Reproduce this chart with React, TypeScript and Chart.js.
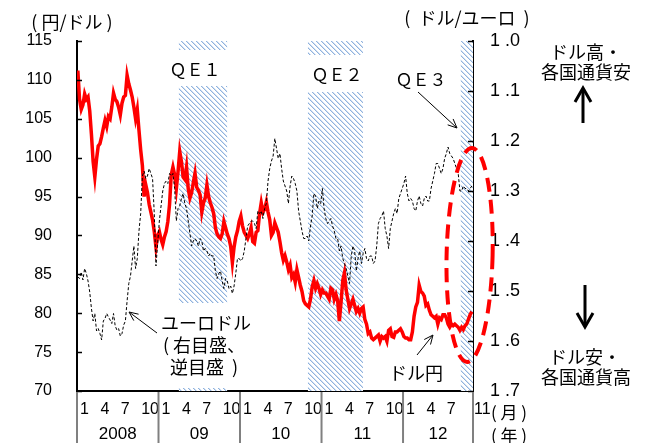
import React, { useEffect, useRef } from 'react';
import { Chart, registerables } from 'chart.js';

Chart.register(...registerables);

// ---------- data (weekly readings, 4 per month) ----------
const yearLabels = ['2008', '09', '10', '11', '12'];
const monthTicks = [0, 3, 6, 9, 12, 15, 18, 21, 24, 27, 30, 33, 36, 39, 42, 45, 48, 51, 54, 58];
const leftTicks = [70, 75, 80, 85, 90, 95, 100, 105, 110, 115];
const rightTicks = [1.0, 1.1, 1.2, 1.3, 1.4, 1.5, 1.6, 1.7];

// USD/JPY (left axis)
const usdJpy2008 = [
  111.2, 107.5, 106.2, 106.8, 108.2, 107.5, 107.8, 106.0, 103.0, 99.5, 97.5, 99.8,
  101.5, 101.8, 102.7, 103.8, 104.8, 104.0, 105.3, 105.0, 106.5, 108.3, 107.5, 107.2,
  106.5, 105.5, 107.0, 107.8, 108.0, 110.6, 109.5, 108.7, 107.8, 106.5, 105.0, 106.2,
  103.5, 101.0, 99.0, 95.0, 96.5, 95.5, 94.0, 93.0, 92.0, 90.5, 88.5, 90.0,
];
const usdJpy2009 = [
  90.5, 89.5, 88.8, 89.8, 90.5, 91.8, 94.0, 97.8, 98.8, 97.8, 96.0, 98.2,
  100.8, 99.5, 97.5, 97.2, 98.8, 96.0, 94.8, 95.5, 96.8, 98.0, 96.2, 95.8,
  95.2, 93.0, 94.2, 94.8, 96.5, 95.0, 94.2, 93.6, 92.8, 91.0, 90.2, 89.8,
  89.6, 90.2, 91.8, 91.0, 90.2, 89.6, 88.6, 86.5, 88.5, 89.8, 90.6, 91.8,
];
const usdJpy2010 = [
  92.5, 91.2, 90.4, 90.0, 89.6, 90.2, 91.0, 89.2, 89.0, 90.4, 90.6, 92.8,
  94.2, 93.0, 93.4, 94.3, 93.0, 92.0, 90.0, 90.4, 91.6, 91.0, 90.4, 89.2,
  87.8, 86.8, 87.4, 86.6, 85.6, 86.2, 84.6, 85.0, 84.0, 85.6, 84.6, 83.6,
  82.8, 81.6, 81.2, 81.0, 80.8, 81.8, 83.4, 84.2, 83.2, 83.8, 83.2, 82.4,
];
const usdJpy2011 = [
  83.0, 82.6, 82.6, 82.2, 81.8, 83.2, 83.0, 81.8, 82.4, 81.6, 79.0, 81.4,
  84.2, 85.2, 83.0, 81.8, 80.6, 81.2, 81.8, 81.0, 80.2, 80.6, 80.0, 80.6,
  80.8, 79.2, 78.6, 77.4, 77.6, 76.8, 76.6, 76.8, 77.0, 77.2, 76.4, 77.0,
  76.8, 77.0, 76.4, 77.8, 78.0, 77.0, 76.9, 77.6, 77.6, 77.8, 78.0, 77.6,
];
const usdJpy2012 = [
  77.0, 76.8, 76.8, 76.6, 76.6, 77.6, 79.6, 80.8, 81.4, 83.6, 82.8, 82.6,
  82.2, 81.0, 81.2, 80.4, 79.8, 79.6, 79.4, 79.6, 78.6, 79.4, 79.2, 79.8,
  79.8, 79.4, 78.6, 78.2, 78.6, 78.4, 78.6, 78.4, 78.2, 77.8, 78.2, 77.9,
  78.4, 78.6, 79.2, 79.8, 80.2,
];

// EUR/USD (right axis, reversed)
const eurUsd2008 = [
  1.472, 1.475, 1.462, 1.478, 1.455, 1.465, 1.480, 1.502, 1.535, 1.560, 1.545, 1.580,
  1.575, 1.585, 1.598, 1.560, 1.555, 1.545, 1.552, 1.558, 1.565, 1.545, 1.570, 1.578,
  1.575, 1.590, 1.585, 1.568, 1.560, 1.520, 1.485, 1.470, 1.440, 1.410, 1.455, 1.435,
  1.380, 1.345, 1.270, 1.260, 1.275, 1.270, 1.255, 1.265, 1.275, 1.345, 1.450, 1.405,
];
const eurUsd2009 = [
  1.360, 1.330, 1.300, 1.285, 1.280, 1.285, 1.265, 1.270, 1.265, 1.295, 1.360, 1.335,
  1.330, 1.315, 1.305, 1.325, 1.335, 1.360, 1.385, 1.410, 1.400, 1.395, 1.400, 1.410,
  1.395, 1.400, 1.420, 1.415, 1.420, 1.430, 1.425, 1.430, 1.430, 1.460, 1.475, 1.465,
  1.460, 1.480, 1.495, 1.475, 1.480, 1.495, 1.490, 1.505, 1.490, 1.465, 1.435, 1.435,
];
const eurUsd2010 = [
  1.440, 1.435, 1.420, 1.395, 1.370, 1.365, 1.360, 1.360, 1.365, 1.375, 1.340, 1.345,
  1.340, 1.355, 1.335, 1.325, 1.280, 1.255, 1.240, 1.230, 1.195, 1.215, 1.235, 1.225,
  1.255, 1.280, 1.290, 1.300, 1.325, 1.290, 1.270, 1.275, 1.285, 1.300, 1.340, 1.360,
  1.380, 1.395, 1.395, 1.390, 1.400, 1.370, 1.350, 1.305, 1.310, 1.335, 1.320, 1.325,
];
const eurUsd2011 = [
  1.295, 1.335, 1.355, 1.365, 1.360, 1.355, 1.370, 1.380, 1.395, 1.395, 1.420, 1.410,
  1.435, 1.445, 1.455, 1.470, 1.485, 1.430, 1.410, 1.420, 1.460, 1.435, 1.420, 1.445,
  1.425, 1.415, 1.435, 1.440, 1.430, 1.430, 1.445, 1.440, 1.410, 1.365, 1.355, 1.350,
  1.340, 1.375, 1.390, 1.415, 1.375, 1.360, 1.345, 1.335, 1.345, 1.315, 1.305, 1.295,
];
const eurUsd2012 = [
  1.285, 1.270, 1.305, 1.320, 1.315, 1.320, 1.335, 1.340, 1.320, 1.310, 1.325, 1.330,
  1.315, 1.310, 1.320, 1.320, 1.295, 1.280, 1.265, 1.245, 1.245, 1.255, 1.265, 1.255,
  1.235, 1.225, 1.212, 1.225, 1.230, 1.235, 1.245, 1.255, 1.265, 1.300, 1.300, 1.290,
  1.295, 1.295, 1.300, 1.295, 1.290,
];

// QE periods (months since Jan 2008)
const qeLabels = ['ＱＥ１', 'ＱＥ２', 'ＱＥ３'];
const qeStart = [15.0, 34.0, 56.5];
const qeEnd = [22.1, 42.1, 58.3];
const xMax = 58.3;

// ---------- helpers ----------
const CJK = "'Noto Sans CJK JP', 'Noto Sans', sans-serif";
const LAT = "'Liberation Sans', Arial, sans-serif";

const toPoints = (arrs: number[][]) =>
  arrs.flatMap((arr, yi) => arr.map((v, i) => ({ x: yi * 12 + (i + 0.5) / 4, y: v })));

function makeHatch(): CanvasPattern | string {
  const c = document.createElement('canvas');
  const n = 5;
  c.width = n;
  c.height = n;
  const g = c.getContext('2d');
  if (!g) return '#b8cfec';
  g.fillStyle = '#ffffff';
  g.fillRect(0, 0, n, n);
  for (let y = 0; y < n; y++) {
    for (let x = 0; x < n; x++) {
      const d = (((x - y) % n) + n) % n;
      if (d === 0) {
        g.fillStyle = '#8fb2de';
        g.fillRect(x, y, 1, 1);
      } else if (d === 1) {
        g.fillStyle = '#d2e0f2';
        g.fillRect(x, y, 1, 1);
      }
    }
  }
  const p = g.createPattern(c, 'repeat');
  return p || '#b8cfec';
}

function txt(ctx: CanvasRenderingContext2D, s: string, x: number, y: number, size: number, family = CJK, align: CanvasTextAlign = 'center') {
  ctx.font = `${size}px ${family}`;
  ctx.textAlign = align;
  ctx.textBaseline = 'middle';
  ctx.fillStyle = '#000';
  ctx.fillText(s, x, y);
}

function arrow(ctx: CanvasRenderingContext2D, x1: number, y1: number, x2: number, y2: number, lw: number, headLen: number, headHalf: number) {
  const ang = Math.atan2(y2 - y1, x2 - x1);
  ctx.strokeStyle = '#000';
  ctx.lineWidth = lw;
  ctx.lineCap = 'butt';
  ctx.lineJoin = 'miter';
  ctx.beginPath();
  ctx.moveTo(x1, y1);
  ctx.lineTo(x2 - Math.cos(ang) * lw, y2 - Math.sin(ang) * lw);
  ctx.stroke();
  const bx = x2 - headLen * Math.cos(ang);
  const by = y2 - headLen * Math.sin(ang);
  const px = -Math.sin(ang) * headHalf;
  const py = Math.cos(ang) * headHalf;
  ctx.beginPath();
  ctx.moveTo(bx + px, by + py);
  ctx.lineTo(x2, y2);
  ctx.lineTo(bx - px, by - py);
  ctx.stroke();
}

export default function App() {
  const ref = useRef<HTMLCanvasElement | null>(null);

  useEffect(() => {
    document.body.style.margin = '0';
    const canvas = ref.current;
    if (!canvas) return;
    Chart.defaults.font.family = LAT;
    Chart.defaults.color = '#000';
    const hatch = makeHatch();

    const annot = {
      id: 'annot',
      beforeDatasetsDraw(chart: any) {
        const { ctx, chartArea: ca, scales } = chart;
        const x = scales.x;
        // hatch segments (vertical pixel ranges leave room for labels)
        const segs: number[][][] = [
          [[ca.top, 50], [86, 303], [388, ca.bottom]],
          [[ca.top, 55], [92, ca.bottom]],
          [[ca.top, ca.bottom]],
        ];
        ctx.save();
        ctx.fillStyle = hatch;
        qeStart.forEach((s, i) => {
          const x0 = x.getPixelForValue(s);
          const x1 = x.getPixelForValue(qeEnd[i]);
          segs[i].forEach(([a, b]) => ctx.fillRect(x0, a, x1 - x0, b - a));
        });
        ctx.restore();
      },
      afterDraw(chart: any) {
        const { ctx, chartArea: ca, scales } = chart;
        const x = scales.x;
        const yL = scales.yL;
        const yR = scales.yR;
        ctx.save();
        // inner tick marks
        ctx.strokeStyle = '#000';
        ctx.lineWidth = 1.5;
        leftTicks.forEach((v) => {
          const py = Math.round(yL.getPixelForValue(v)) + 0.5;
          ctx.beginPath();
          ctx.moveTo(ca.left, py);
          ctx.lineTo(ca.left + 5, py);
          ctx.stroke();
        });
        rightTicks.forEach((v) => {
          const py = Math.round(yR.getPixelForValue(v)) + 0.5;
          ctx.beginPath();
          ctx.moveTo(ca.right - 5, py);
          ctx.lineTo(ca.right, py);
          ctx.stroke();
        });
        // year separators & labels
        const bounds = [0, 12, 24, 36, 48, xMax];
        ctx.strokeStyle = '#808080';
        ctx.lineWidth = 2;
        bounds.forEach((b) => {
          const px = x.getPixelForValue(b);
          ctx.beginPath();
          ctx.moveTo(px, ca.bottom + 1);
          ctx.lineTo(px, chart.height);
          ctx.stroke();
        });
        yearLabels.forEach((lab, i) => {
          const a = x.getPixelForValue(bounds[i]);
          const b = x.getPixelForValue(bounds[i + 1]);
          txt(ctx, lab, (a + b) / 2, 434, 17, LAT);
        });
        // red dashed ellipse
        ctx.strokeStyle = '#ff0000';
        ctx.lineWidth = 4;
        ctx.setLineDash([14, 8]);
        ctx.beginPath();
        ctx.ellipse(x.getPixelForValue(57.8), yR.getPixelForValue(1.428), 23, 107, 0.023, 0, Math.PI * 2);
        ctx.stroke();
        ctx.setLineDash([]);
        // titles
        txt(ctx, '( 円/ドル )', 72, 22, 18);
        txt(ctx, '(  ドル/ユーロ  )', 467, 18, 18);
        txt(ctx, '( 月 )', 509, 413, 17);
        txt(ctx, '( 年 )', 509, 436, 17);
        // right side notes
        txt(ctx, 'ドル高・', 586, 52, 18);
        txt(ctx, '各国通貨安', 586, 72, 18);
        txt(ctx, 'ドル安・', 585, 357, 18);
        txt(ctx, '各国通貨高', 586, 377, 18);
        arrow(ctx, 583, 123, 583, 88, 3, 14, 8);
        arrow(ctx, 585, 285, 585, 327, 3, 14, 8);
        // QE labels
        txt(ctx, qeLabels[0], 195, 70, 17);
        txt(ctx, qeLabels[1], 337, 75, 17);
        txt(ctx, qeLabels[2], 421, 80, 17);
        arrow(ctx, 418, 92, 457, 128, 1, 9, 4);
        // series labels
        txt(ctx, 'ユーロドル', 206, 323, 18);
        txt(ctx, '( 右目盛、', 204, 345, 18);
        txt(ctx, '逆目盛  )', 204, 367, 18);
        arrow(ctx, 157, 333, 129, 312, 1, 9, 4);
        txt(ctx, 'ドル円', 416, 373, 18);
        arrow(ctx, 417, 355, 433, 335, 1, 9, 4);
        ctx.restore();
      },
    };

    const chart = new Chart(canvas, {
      type: 'line',
      data: {
        datasets: [
          {
            label: 'ユーロドル',
            data: toPoints([eurUsd2008, eurUsd2009, eurUsd2010, eurUsd2011, eurUsd2012]),
            yAxisID: 'yR',
            borderColor: '#000000',
            borderWidth: 1,
            borderDash: [3, 2],
            pointRadius: 0,
            tension: 0,
            fill: false,
          },
          {
            label: 'ドル円',
            data: toPoints([usdJpy2008, usdJpy2009, usdJpy2010, usdJpy2011, usdJpy2012]),
            yAxisID: 'yL',
            borderColor: '#ff0000',
            borderWidth: 3.5,
            pointRadius: 0,
            tension: 0,
            fill: false,
          },
        ],
      },
      options: {
        animation: false,
        responsive: false,
        events: [],
        layout: { padding: { top: 41, left: 0, right: 0, bottom: 0 } },
        plugins: { legend: { display: false }, tooltip: { enabled: false } },
        scales: {
          x: {
            type: 'linear',
            position: 'bottom',
            min: 0,
            max: xMax,
            grid: { display: false, drawTicks: false },
            border: { display: true, color: '#000', width: 2 },
            ticks: {
              autoSkip: false,
              maxRotation: 0,
              minRotation: 0,
              align: 'start',
              labelOffset: 3,
              padding: 9,
              color: '#000',
              font: { size: 16, family: LAT },
              callback: (v: any) => String((Math.round(Number(v)) % 12) + 1),
            },
            afterBuildTicks: (s: any) => {
              s.ticks = monthTicks.map((v) => ({ value: v }));
            },
            afterFit: (s: any) => {
              s.height = 52;
            },
          },
          yL: {
            type: 'linear',
            position: 'left',
            min: 70,
            max: 115,
            grid: { display: false, drawTicks: false },
            border: { display: true, color: '#000', width: 2 },
            ticks: { stepSize: 5, padding: 25, color: '#000', font: { size: 16, family: LAT } },
            afterFit: (s: any) => {
              s.width = 77;
            },
          },
          yR: {
            type: 'linear',
            position: 'right',
            min: 1.0,
            max: 1.7,
            reverse: true,
            grid: { display: false, drawTicks: false },
            border: { display: true, color: '#000', width: 2 },
            ticks: {
              stepSize: 0.1,
              padding: 17,
              color: '#000',
              font: { size: 18, family: LAT },
              callback: (v: any) => {
                const s = Number(v).toFixed(1);
                return s.replace('.', ' .');
              },
            },
            afterFit: (s: any) => {
              s.width = 180;
            },
          },
        },
      },
      plugins: [annot],
    } as any);

    return () => chart.destroy();
  }, []);

  return (
    <div style={{ width: 653, height: 443, background: '#fff' }}>
      <canvas ref={ref} width={653} height={443} style={{ display: 'block' }} />
    </div>
  );
}
